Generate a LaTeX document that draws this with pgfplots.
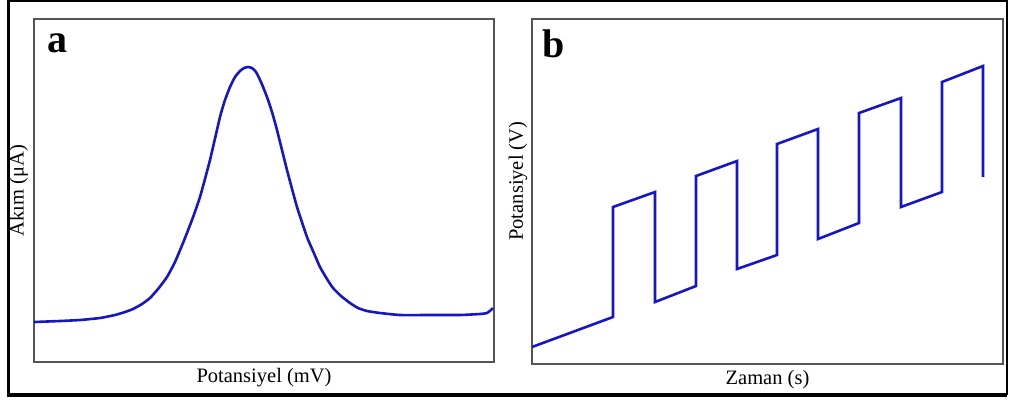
\documentclass[border=0pt]{standalone}
\usepackage{fontspec}
\setmainfont{Liberation Serif}
\usepackage{pgfplots}
\pgfplotsset{compat=1.18}

\definecolor{curve}{RGB}{22,22,200}
\definecolor{boxgray}{RGB}{85,85,85}

\pgfplotsset{
  panel/.style={
    scale only axis,
    axis line style={line width=1.6pt, draw=boxgray},
    xtick=\empty, ytick=\empty,
    anchor=north west,
    label style={font=\fontsize{20.5}{23}\selectfont},
    xlabel style={at={(axis description cs:0.5,0)}, anchor=center, yshift=-16pt},
  },
}

\begin{document}
\begin{tikzpicture}
\useasboundingbox (0pt,0pt) rectangle (1009pt,-400pt);

% panel a
\begin{axis}[panel,
    at={(34pt,-19pt)}, width=460pt, height=343pt,
    xmin=34, xmax=494, ymin=38, ymax=381,
    xlabel={Potansiyel (mV)},
    ylabel={Akım (μA)},
    ylabel style={at={(axis description cs:-0.033,0.5)}, anchor=center},
]
\addplot[curve, line width=2.6pt, smooth, tension=0.3] coordinates {
 (34,78) (60,79) (80,80) (100,82) (115,85) (125,88) (133,91) (142,96)
 (150,102) (158,111) (167,123) (175,138) (183,157) (192,180) (200,203)
 (210,240) (220,283) (225,300) (230,313) (235,323) (240,329) (244,332)
 (248,333) (252,332) (256,328) (261,318) (267,303) (272,288) (277,270)
 (287,230) (297,193) (307,163) (313,149) (320,133) (327,121) (333,112)
 (341,104) (350,97) (358,92) (367,89) (380,87) (400,85) (430,85)
 (460,85) (480,86) (487,87) (491,90) (493,92)
};
\end{axis}

% panel b
\begin{axis}[panel,
    at={(532pt,-19pt)}, width=471pt, height=345pt,
    xmin=532, xmax=1003, ymin=36, ymax=381,
    xlabel={Zaman (s)},
    ylabel={Potansiyel (V)},
    ylabel style={at={(axis description cs:-0.03,0.53)}, anchor=center},
]
\addplot[curve, line width=2.6pt, line join=miter] coordinates {
 (532,53) (613,83) (613,193) (655,208) (655,98) (696,114) (696,224)
 (737,239) (737,131) (777,145) (777,256) (818,271) (818,161) (859,177)
 (859,287) (901,302) (901,193) (942,208) (942,318) (983,334) (983,223)
};
\end{axis}

% panel letters
\node[font=\fontsize{40}{44}\selectfont\bfseries] at (57pt,-43pt) {a};
\node[font=\fontsize{40}{44}\selectfont\bfseries] at (554pt,-44pt) {b};

% outer frame
\draw[line width=2pt] (8pt,-1pt) rectangle (1007pt,-394pt);
\draw[line width=3pt] (8.5pt,-1pt) -- (8.5pt,-395pt) -- (1007pt,-395pt);
\end{tikzpicture}
\end{document}
